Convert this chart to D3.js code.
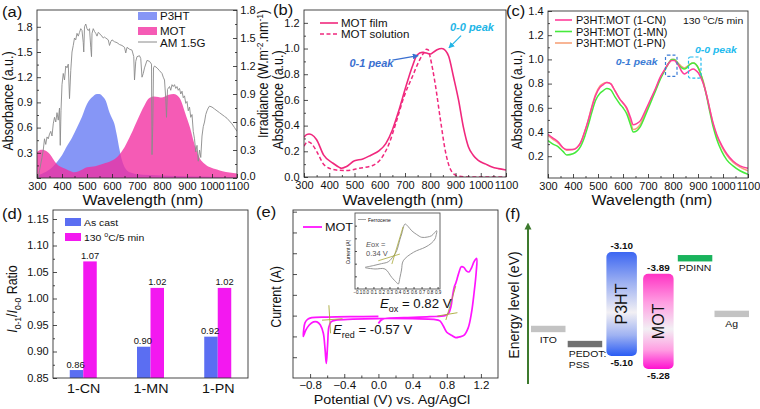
<!DOCTYPE html>
<html><head><meta charset="utf-8">
<script src="https://cdn.jsdelivr.net/npm/d3@7"></script>
<style>html,body{margin:0;padding:0;background:#fff;} svg{display:block;}</style>
</head><body>
<script>
// ================= DATA =================
// (a) absorbance spectra + AM1.5G
const p3htWl  = [300,320,350,380,400,420,440,460,480,500,520,540,550,560,575,590,600,610,620,630,640,650,660,680,700,750,800,900,1000,1100];
const p3htAbs = [0.03,0.05,0.10,0.19,0.27,0.38,0.48,0.60,0.73,0.88,0.96,1.0,1.0,0.98,0.92,0.78,0.71,0.64,0.50,0.34,0.21,0.13,0.09,0.06,0.045,0.035,0.03,0.02,0.015,0.01];
const motWl   = [300,310,320,330,350,378,415,440,448,467,500,533,565,598,624,650,676,703,729,748,768,785,800,815,827,846,860,873,892,912,931,951,970,990,1020,1042,1070,1100];
const motFilm = [0.31,0.33,0.335,0.33,0.29,0.17,0.107,0.075,0.068,0.08,0.127,0.14,0.17,0.205,0.26,0.366,0.52,0.70,0.86,0.95,0.97,0.965,0.957,0.975,0.99,1.0,0.985,0.94,0.78,0.60,0.39,0.236,0.17,0.13,0.10,0.08,0.065,0.055];
const motSolWl = [300,315,330,350,382,428,467,520,572,611,637,664,696,729,755,772,785,792,800,820,840,860,880,905,950,1000,1100];
const motSol   = [0.24,0.275,0.26,0.2,0.09,0.054,0.05,0.068,0.09,0.158,0.26,0.42,0.625,0.78,0.90,0.96,0.995,0.99,0.93,0.72,0.45,0.2,0.06,0.01,0.0,0.0,0.0];
const amWl  = [305,310,315,320,325,330,335,340,345,350,355,360,365,370,375,380,385,390,393,396,400,405,410,415,420,425,430,435,440,445,450,455,460,465,470,475,480,485,487,490,495,500,505,510,515,518,520,525,530,535,540,545,550,555,560,565,570,575,580,585,590,595,600,610,620,630,640,650,655,660,670,680,687,690,695,700,710,715,720,725,730,740,750,758,760,763,766,770,780,790,800,805,810,815,818,822,830,835,840,845,850,855,860,865,870,875,880,885,890,895,900,905,910,915,920,925,930,935,940,945,950,955,960,965,970,975,980,985,990,1000,1010,1020,1030,1040,1050,1060,1070,1080,1090,1100];
const amIrr = [0.0,0.08,0.15,0.22,0.3,0.42,0.36,0.44,0.42,0.47,0.5,0.45,0.58,0.65,0.6,0.7,0.62,0.75,0.35,0.72,1.0,1.12,1.05,1.2,1.18,1.22,0.85,1.15,1.35,1.42,1.5,1.48,1.55,1.52,1.56,1.6,1.58,1.45,1.35,1.62,1.65,1.6,1.58,1.6,1.4,1.3,1.55,1.6,1.57,1.55,1.52,1.56,1.55,1.53,1.52,1.5,1.51,1.5,1.49,1.48,1.42,1.46,1.48,1.46,1.45,1.43,1.42,1.40,1.34,1.4,1.38,1.37,1.30,1.05,1.25,1.30,1.31,1.28,1.08,1.12,1.18,1.26,1.25,1.22,0.25,0.55,1.18,1.2,1.18,1.15,1.12,1.08,1.05,0.85,0.65,0.95,0.98,0.94,1.0,0.98,1.0,0.96,0.98,0.94,0.96,0.9,0.93,0.86,0.88,0.8,0.82,0.72,0.76,0.65,0.68,0.5,0.42,0.28,0.35,0.18,0.3,0.22,0.45,0.55,0.6,0.68,0.72,0.75,0.77,0.76,0.74,0.72,0.7,0.68,0.66,0.64,0.61,0.58,0.54,0.5];
const wlTicks = [300,400,500,600,700,800,900,1000,1100];
const absTicksA = [0.0,0.3,0.6,0.9,1.2,1.5,1.8];
const irrTicks = [0.0,0.3,0.6,0.9,1.2,1.5,1.8];
const absTicksB = [0.0,0.2,0.4,0.6,0.8,1.0,1.2];
const absTicksC = [0.2,0.4,0.6,0.8,1.0,1.2,1.4];

// (c) blend films
const blendWl = [300,320,340,360,375,400,415,430,448,460,475,490,508,520,535,550,568,588,600,615,630,641,655,668,690,708,730,748,765,780,795,805,815,825,835,845,855,868,881,891,901,911,921,935,948,961,975,995,1015,1040,1068,1100];
const cnAbs = [0.38,0.35,0.32,0.27,0.255,0.255,0.27,0.31,0.41,0.49,0.60,0.70,0.77,0.79,0.81,0.80,0.74,0.67,0.64,0.60,0.52,0.46,0.47,0.49,0.58,0.66,0.76,0.85,0.91,0.96,0.99,0.99,0.97,0.94,0.90,0.88,0.89,0.91,0.92,0.91,0.89,0.85,0.80,0.70,0.58,0.47,0.38,0.29,0.22,0.16,0.12,0.10];
const mnAbs = [0.33,0.30,0.28,0.24,0.21,0.22,0.24,0.28,0.37,0.45,0.56,0.66,0.72,0.74,0.76,0.75,0.69,0.63,0.60,0.55,0.46,0.40,0.41,0.44,0.54,0.63,0.74,0.83,0.90,0.96,1.00,1.00,0.98,0.95,0.93,0.92,0.93,0.96,0.97,0.96,0.93,0.88,0.81,0.69,0.56,0.44,0.34,0.24,0.17,0.12,0.08,0.05];
const pnAbs = [0.37,0.34,0.31,0.27,0.25,0.255,0.27,0.31,0.41,0.49,0.61,0.71,0.78,0.80,0.81,0.80,0.74,0.67,0.64,0.59,0.49,0.42,0.43,0.46,0.56,0.65,0.75,0.84,0.91,0.96,1.00,1.00,0.98,0.96,0.94,0.93,0.94,0.96,0.97,0.96,0.93,0.88,0.82,0.70,0.58,0.46,0.37,0.28,0.21,0.15,0.11,0.08];
const blendNames = ["P3HT:MOT (1-CN)","P3HT:MOT (1-MN)","P3HT:MOT (1-PN)"];
const peakBoxWl = [[770,816],[862,912]];
const peakBoxAbs = [[0.86,1.035],[0.845,1.02]];

// (d) ratio bars
const devices = ["1-CN","1-MN","1-PN"];
const ratioAsCast = [0.865,0.909,0.928];
const ratioAnneal = [1.07,1.02,1.02];
const ratioAsCastLabels = ["0.86","0.90","0.92"];
const ratioAnnealLabels = ["1.07","1.02","1.02"];
const ratioTicks = [0.85,0.90,0.95,1.00,1.05,1.10,1.15];

// (e) cyclic voltammetry
const cvV = [0.0,0.03,0.08,0.3,0.6,0.78,0.82,0.85,0.87,0.89,0.905,0.92,0.945,0.97,1.0,1.03,1.06,1.09,1.12,1.15,
             1.145,1.12,1.09,1.05,1.0,0.95,0.905,0.86,0.8,0.76,0.72,0.65,0.4,0.0,-0.3,-0.5,-0.555,-0.58,-0.595,-0.61,-0.625,-0.645,-0.68,-0.72,-0.76,-0.81,-0.85,-0.88,
             -0.875,-0.86,-0.83,-0.78,-0.6,-0.3,0.0];
const cvI = [-1.38,-1.22,-1.14,-1.1,-1.05,-1.0,-0.9,-0.55,0.0,0.4,0.55,0.75,1.11,1.35,1.32,1.15,1.1,1.3,1.6,1.75,
             1.1,0.1,-0.85,-1.6,-1.95,-2.02,-2.06,-1.96,-1.8,-1.5,-1.25,-1.18,-1.15,-1.14,-1.17,-1.22,-1.3,-1.55,-2.4,-3.3,-2.6,-1.85,-1.45,-1.3,-1.3,-1.45,-1.7,-2.0,
             -1.7,-1.35,-1.18,-1.1,-1.07,-1.05,-1.04];
const cvTangents = [[[0.79,-1.21],[0.905,0.42]],[[0.69,-1.02],[0.925,-0.86]],[[-0.58,-0.5],[-0.56,-1.85]],[[-0.66,-1.22],[-0.42,-1.15]]];
const cvTicks = [-0.8,-0.4,0.0,0.4,0.8,1.2];
const fcV = [-0.005,0.1,0.2,0.285,0.35,0.39,0.43,0.452,0.494,0.53,0.577,0.64,0.702,0.77,0.826,0.889,0.88,0.868,0.82,0.743,0.6,0.472,0.45,0.431,0.41,0.39,0.328,0.244,0.119,0.0];
const fcI = [-1.29,-1.15,-1.0,-0.85,-0.4,0.02,0.9,1.34,2.13,1.95,1.6,1.3,1.08,1.1,1.21,1.6,1.2,0.95,0.6,0.29,-0.1,-0.77,-1.5,-2.08,-2.61,-2.5,-2.08,-1.42,-1.42,-1.33];
const fcTangents = [[[0.33,-1.03],[0.47,1.92]],[[0.16,-0.77],[0.43,-0.24]]];
const fcTicks = [-0.1,0.0,0.1,0.2,0.3,0.4,0.5,0.6,0.7,0.8,0.9];

// (f) energy levels
const materials = ["ITO","PEDOT:PSS","P3HT","MOT","PDINN","Ag"];
const electrodeNames = ["ITO","PEDOT:PSS","PDINN","Ag"];
const electrodeLevels = [-4.58,-4.87,-3.22,-4.29];
const organicNames = ["P3HT","MOT"];
const lumoLevels = [-3.10,-3.52];
const homoLevels = [-5.10,-5.35];
const lumoLabels = ["-3.10","-3.89"];
const homoLabels = ["-5.10","-5.28"];

// ================= DRAWING =================
const FONT = "'Liberation Sans', Arial, Helvetica, sans-serif";
const SX = 1.1;
const svg = d3.select("body").append("svg").attr("width",760).attr("height",409);
const defs = svg.append("defs");

function txt(g, x, y, parts, o = {}) {
  const size = o.size || 11;
  let tr = `translate(${x},${y}) scale(${o.sx ?? SX},1)`;
  if (o.rot) tr += ` rotate(${o.rot})`;
  const t = g.append("text").attr("transform", tr).attr("font-family", FONT)
    .attr("font-size", size).attr("text-anchor", o.anchor || "start").attr("fill", o.fill || "#111");
  if (o.weight) t.attr("font-weight", o.weight);
  if (o.italic) t.attr("font-style", "italic");
  if (typeof parts === "string") parts = [{t: parts}];
  let shift = 0;
  parts.forEach(p => {
    const ts = t.append("tspan").text(p.t);
    let target = 0;
    if (p.sup) target = -size * 0.38;
    if (p.sub) target = size * 0.3;
    if (p.sup || p.sub) ts.attr("font-size", size * 0.68);
    if (target !== shift) { ts.attr("dy", target - shift); shift = target; }
    if (p.italic) ts.attr("font-style", "italic");
  });
  return t;
}
function addAxis(g, axis, tx, ty, fs) {
  const a = g.append("g").attr("transform", `translate(${tx},${ty})`).call(axis);
  a.select(".domain").remove();
  a.selectAll(".tick line").attr("stroke", "#222").attr("stroke-width", 0.8);
  a.selectAll(".tick text").attr("font-family", FONT).attr("font-size", fs || 10).attr("fill", "#111")
    .attr("transform", `scale(${SX},1)`);
  return a;
}
function frame(g, b, stroke) {
  g.append("rect").attr("x", b.x0).attr("y", b.y0).attr("width", b.x1 - b.x0).attr("height", b.y1 - b.y0)
    .attr("fill", "none").attr("stroke", stroke || "#333").attr("stroke-width", 0.9);
}
function clip(id, b) {
  defs.append("clipPath").attr("id", id).append("rect").attr("x", b.x0).attr("y", b.y0)
    .attr("width", b.x1 - b.x0).attr("height", b.y1 - b.y0);
  return `url(#${id})`;
}
const zip = (a, b) => a.map((v, i) => [v, b[i]]);
const minorOf = (ticks) => ticks.slice(1).map((t, i) => (t + ticks[i]) / 2);
const fmtWl = d3.format("d");
const TF = 10;

// ---------- (a) ----------
{
  const g = svg.append("g");
  const B = {x0: 37, x1: 237, y0: 10, y1: 178};
  const x = d3.scaleLinear().domain([300, 1100]).range([B.x0, B.x1]);
  const y = d3.scaleLinear().domain([0, 2.0]).range([B.y1, B.y0]);
  const y2 = d3.scaleLinear().domain([0, 1.8]).range([B.y1, B.y0]);
  const cp = clip("ca", B);
  const dg = g.append("g").attr("clip-path", cp);
  const area = d3.area().x(d => x(d[0])).y0(y(0)).y1(d => y(d[1])).curve(d3.curveMonotoneX);
  dg.append("path").datum(zip(p3htWl, p3htAbs)).attr("d", area).attr("fill", "rgb(60,85,240)").attr("fill-opacity", 0.62);
  dg.append("path").datum(zip(motWl, motFilm)).attr("d", area).attr("fill", "rgb(242,45,160)").attr("fill-opacity", 0.78);
  dg.append("path").datum(zip(amWl, amIrr)).attr("d", d3.line().x(d => x(d[0])).y(d => y2(d[1])))
    .attr("fill", "none").attr("stroke", "#8a8a8a").attr("stroke-width", 0.9);
  frame(g, B);
  addAxis(g, d3.axisBottom(x).tickValues(wlTicks).tickFormat(fmtWl).tickSizeInner(-4).tickSizeOuter(0).tickPadding(5), 0, B.y1, TF);
  addAxis(g, d3.axisBottom(x).tickValues(minorOf(wlTicks)).tickSizeInner(-2).tickSizeOuter(0).tickFormat(""), 0, B.y1);
  addAxis(g, d3.axisLeft(y).tickValues(absTicksA).tickFormat(d3.format(".1f")).tickSizeInner(-4).tickSizeOuter(0).tickPadding(4), B.x0, 0, TF)
    .selectAll(".tick").filter(d => d === 0).select("text").remove();
  addAxis(g, d3.axisLeft(y).tickValues(minorOf(absTicksA)).tickSizeInner(-2).tickSizeOuter(0).tickFormat(""), B.x0, 0);
  addAxis(g, d3.axisRight(y2).tickValues(irrTicks).tickFormat(d3.format(".1f")).tickSizeInner(-4).tickSizeOuter(0).tickPadding(3), B.x1, 0, TF)
    .selectAll(".tick").filter(d => d === 0).select("text").attr("dy", "0.1em");
  addAxis(g, d3.axisRight(y2).tickValues(minorOf(irrTicks)).tickSizeInner(-2).tickSizeOuter(0).tickFormat(""), B.x1, 0);
  txt(g, 143, 205, "Wavelength (nm)", {size: 14.5, anchor: "middle"});
  txt(g, 13, 101, "Absorbance (a.u.)", {size: 12.5, anchor: "middle", rot: -90});
  txt(g, 268, 74, [{t: "Irradiance (W.m"}, {t: "-2", sup: 1}, {t: ".nm"}, {t: "-1", sup: 1}, {t: ")"}], {size: 12.5, anchor: "middle", rot: -90});
  // legend
  g.append("rect").attr("x", 138).attr("y", 12).attr("width", 19).attr("height", 8).attr("fill", "rgb(60,85,240)").attr("fill-opacity", 0.62);
  g.append("rect").attr("x", 138).attr("y", 27).attr("width", 19).attr("height", 8).attr("fill", "rgb(242,45,160)").attr("fill-opacity", 0.78);
  g.append("line").attr("x1", 138).attr("x2", 157).attr("y1", 42).attr("y2", 42).attr("stroke", "#8a8a8a").attr("stroke-width", 1);
  txt(g, 160, 20, "P3HT", {size: 10.5});
  txt(g, 160, 35, "MOT", {size: 10.5});
  txt(g, 160, 47, "AM 1.5G", {size: 10.5});
  txt(g, 2, 17, "(a)", {size: 15});
}

// ---------- (b) ----------
{
  const g = svg.append("g");
  const B = {x0: 304, x1: 506, y0: 10, y1: 177};
  const x = d3.scaleLinear().domain([300, 1100]).range([B.x0, B.x1]);
  const y = d3.scaleLinear().domain([0, 1.3]).range([B.y1, B.y0]);
  const dg = g.append("g").attr("clip-path", clip("cb", B));
  const line = d3.line().x(d => x(d[0])).y(d => y(d[1])).curve(d3.curveMonotoneX);
  const col = "#f0287d";
  dg.append("path").datum(zip(motSolWl, motSol)).attr("d", line).attr("fill", "none").attr("stroke", col).attr("stroke-width", 1.5).attr("stroke-dasharray", "4,2.5");
  dg.append("path").datum(zip(motWl, motFilm)).attr("d", line).attr("fill", "none").attr("stroke", col).attr("stroke-width", 1.6);
  frame(g, B);
  addAxis(g, d3.axisBottom(x).tickValues(wlTicks).tickFormat(fmtWl).tickSizeInner(-4).tickSizeOuter(0).tickPadding(5), 0, B.y1, TF);
  addAxis(g, d3.axisBottom(x).tickValues(minorOf(wlTicks)).tickSizeInner(-2).tickSizeOuter(0).tickFormat(""), 0, B.y1);
  addAxis(g, d3.axisLeft(y).tickValues(absTicksB).tickFormat(d3.format(".1f")).tickSizeInner(-4).tickSizeOuter(0).tickPadding(4), B.x0, 0, TF);
  addAxis(g, d3.axisLeft(y).tickValues(minorOf(absTicksB)).tickSizeInner(-2).tickSizeOuter(0).tickFormat(""), B.x0, 0);
  txt(g, 403, 205, "Wavelength (nm)", {size: 14.5, anchor: "middle"});
  txt(g, 283, 100, "Absorbance (a.u.)", {size: 12.5, anchor: "middle", rot: -90});
  g.append("line").attr("x1", 320).attr("x2", 338).attr("y1", 23).attr("y2", 23).attr("stroke", col).attr("stroke-width", 1.6);
  g.append("line").attr("x1", 320).attr("x2", 338).attr("y1", 34).attr("y2", 34).attr("stroke", col).attr("stroke-width", 1.5).attr("stroke-dasharray", "4,2.5");
  txt(g, 341, 27, "MOT film", {size: 10.5});
  txt(g, 341, 38, "MOT solution", {size: 10.5});
  // annotations
  const blue = "#3a6fd0", cyan = "#22b5e6";
  defs.append("marker").attr("id", "arB").attr("viewBox", "0 0 10 10").attr("refX", 9).attr("refY", 5)
    .attr("markerWidth", 5).attr("markerHeight", 5).attr("orient", "auto").append("path").attr("d", "M0,0L10,5L0,10z").attr("fill", blue);
  defs.append("marker").attr("id", "arC").attr("viewBox", "0 0 10 10").attr("refX", 9).attr("refY", 5)
    .attr("markerWidth", 5).attr("markerHeight", 5).attr("orient", "auto").append("path").attr("d", "M0,0L10,5L0,10z").attr("fill", cyan);
  g.append("line").attr("x1", x(650)).attr("y1", y(0.91)).attr("x2", x(752)).attr("y2", y(0.945))
    .attr("stroke", blue).attr("stroke-width", 1.2).attr("marker-end", "url(#arB)");
  g.append("line").attr("x1", x(922)).attr("y1", y(1.10)).attr("x2", x(874)).attr("y2", y(1.005))
    .attr("stroke", cyan).attr("stroke-width", 1.2).attr("marker-end", "url(#arC)");
  txt(g, x(480), y(0.86), "0-1 peak", {size: 10, weight: "bold", italic: 1, fill: blue});
  txt(g, x(878), y(1.135), "0-0 peak", {size: 10, weight: "bold", italic: 1, fill: cyan});
  txt(g, 273, 15, "(b)", {size: 15});
}

// ---------- (c) ----------
{
  const g = svg.append("g");
  const B = {x0: 548, x1: 748, y0: 11, y1: 178};
  const x = d3.scaleLinear().domain([300, 1100]).range([B.x0, B.x1]);
  const y = d3.scaleLinear().domain([0.02, 1.4]).range([B.y1, B.y0]);
  const dg = g.append("g").attr("clip-path", clip("cc", B));
  const line = d3.line().x(d => x(d[0])).y(d => y(d[1])).curve(d3.curveMonotoneX);
  const cols = ["#ff3d9a", "#46ea3c", "#f7a27a"];
  const series = [cnAbs, mnAbs, pnAbs];
  [2, 1, 0].forEach(i => dg.append("path").datum(zip(blendWl, series[i])).attr("d", line)
    .attr("fill", "none").attr("stroke", cols[i]).attr("stroke-width", 1.5));
  frame(g, B);
  addAxis(g, d3.axisBottom(x).tickValues(wlTicks).tickFormat(fmtWl).tickSizeInner(-4).tickSizeOuter(0).tickPadding(5), 0, B.y1, TF);
  addAxis(g, d3.axisBottom(x).tickValues(minorOf(wlTicks)).tickSizeInner(-2).tickSizeOuter(0).tickFormat(""), 0, B.y1);
  addAxis(g, d3.axisLeft(y).tickValues(absTicksC).tickFormat(d3.format(".1f")).tickSizeInner(-4).tickSizeOuter(0).tickPadding(4), B.x0, 0, TF);
  addAxis(g, d3.axisLeft(y).tickValues(minorOf(absTicksC)).tickSizeInner(-2).tickSizeOuter(0).tickFormat(""), B.x0, 0);
  txt(g, 652, 205, "Wavelength (nm)", {size: 14.5, anchor: "middle"});
  txt(g, 522, 100, "Absorbance (a.u.)", {size: 12.5, anchor: "middle", rot: -90});
  blendNames.forEach((n, i) => {
    g.append("line").attr("x1", 555).attr("x2", 572).attr("y1", 20 + i * 11.5).attr("y2", 20 + i * 11.5).attr("stroke", cols[i]).attr("stroke-width", 1.6);
    txt(g, 576, 24 + i * 11.5, n, {size: 10});
  });
  txt(g, 683, 24, [{t: "130 "}, {t: "o", sup: 1}, {t: "C/5 min"}], {size: 9.5});
  const bc = ["#3a7bd5", "#22bbee"];
  peakBoxWl.forEach((w, i) => {
    g.append("rect").attr("x", x(w[0])).attr("y", y(peakBoxAbs[i][1])).attr("width", x(w[1]) - x(w[0]))
      .attr("height", y(peakBoxAbs[i][0]) - y(peakBoxAbs[i][1])).attr("rx", 2)
      .attr("fill", "none").attr("stroke", bc[i]).attr("stroke-width", 1.2).attr("stroke-dasharray", "3,2");
  });
  txt(g, x(738), y(0.955), "0-1 peak", {size: 9.5, weight: "bold", italic: 1, fill: bc[0], anchor: "end"});
  txt(g, x(888), y(1.05), "0-0 peak", {size: 9.5, weight: "bold", italic: 1, fill: bc[1]});
  txt(g, 506, 16, "(c)", {size: 15});
}

// ---------- (d) ----------
{
  const g = svg.append("g");
  const B = {x0: 53, x1: 248, y0: 210, y1: 378};
  const x = d3.scalePoint().domain(devices).range([B.x0, B.x1]).padding(0.45);
  const y = d3.scaleLinear().domain([0.85, 1.167]).range([B.y1, B.y0]);
  const bw = 13.5;
  const cBlue = "#5b6ef2", cMag = "#f318f0";
  devices.forEach((d, i) => {
    g.append("rect").attr("x", x(d) - bw).attr("y", y(ratioAsCast[i])).attr("width", bw).attr("height", y(0.85) - y(ratioAsCast[i])).attr("fill", cBlue);
    g.append("rect").attr("x", x(d)).attr("y", y(ratioAnneal[i])).attr("width", bw).attr("height", y(0.85) - y(ratioAnneal[i])).attr("fill", cMag);
    txt(g, x(d) - bw / 2 - 1, y(ratioAsCast[i]) - 2.5, ratioAsCastLabels[i], {size: 8.5, anchor: "middle"});
    txt(g, x(d) + bw / 2, y(ratioAnneal[i]) - 2.5, ratioAnnealLabels[i], {size: 8.5, anchor: "middle"});
  });
  frame(g, B);
  addAxis(g, d3.axisBottom(x).tickSize(0).tickPadding(6), 0, B.y1, 13);
  addAxis(g, d3.axisLeft(y).tickValues(ratioTicks).tickFormat(d3.format(".2f")).tickSizeInner(-4).tickSizeOuter(0).tickPadding(4), B.x0, 0, TF);
  addAxis(g, d3.axisLeft(y).tickValues(minorOf(ratioTicks)).tickSizeInner(-2).tickSizeOuter(0).tickFormat(""), B.x0, 0);
  txt(g, 17, 299, [{t: "I", italic: 1}, {t: "0-1", sub: 1}, {t: "/"}, {t: "I", italic: 1}, {t: "0-0", sub: 1}, {t: " Ratio"}], {size: 12.5, anchor: "middle", rot: -90});
  g.append("rect").attr("x", 65).attr("y", 218).attr("width", 16).attr("height", 8).attr("fill", cBlue);
  g.append("rect").attr("x", 65).attr("y", 233).attr("width", 16).attr("height", 8).attr("fill", cMag);
  txt(g, 84, 226, "As cast", {size: 9.5});
  txt(g, 84, 241, [{t: "130 "}, {t: "o", sup: 1}, {t: "C/5 min"}], {size: 9.5});
  txt(g, 2, 219, "(d)", {size: 15});
}

// ---------- (e) ----------
{
  const g = svg.append("g");
  const B = {x0: 293, x1: 498, y0: 210, y1: 378};
  const x = d3.scaleLinear().domain([-1.0, 1.4]).range([B.x0, B.x1]);
  const y = d3.scaleLinear().domain([-4, 4.08]).range([B.y1, B.y0]);
  const dg = g.append("g").attr("clip-path", clip("ce", B));
  const mag = "#ff14ff", olive = "#a8a838";
  dg.append("path").datum(zip(cvV, cvI)).attr("d", d3.line().x(d => x(d[0])).y(d => y(d[1])).curve(d3.curveCatmullRom.alpha(0.5)))
    .attr("fill", "none").attr("stroke", mag).attr("stroke-width", 1.7);
  cvTangents.forEach(s => dg.append("line").attr("x1", x(s[0][0])).attr("y1", y(s[0][1])).attr("x2", x(s[1][0])).attr("y2", y(s[1][1]))
    .attr("stroke", olive).attr("stroke-width", 0.9));
  frame(g, B);
  addAxis(g, d3.axisBottom(x).tickValues(cvTicks).tickFormat(d3.format(".1f")).tickSizeInner(-4).tickSizeOuter(0).tickPadding(4), 0, B.y1, 10.5);
  addAxis(g, d3.axisBottom(x).tickValues(minorOf(cvTicks)).tickSizeInner(-2.5).tickSizeOuter(0).tickFormat(""), 0, B.y1);
  addAxis(g, d3.axisLeft(y).tickValues(d3.range(-3, 5)).tickSizeInner(-4).tickSizeOuter(0).tickFormat(""), B.x0, 0);
  txt(g, 392, 404, "Potential (V) vs. Ag/AgCl", {size: 13, anchor: "middle"});
  txt(g, 281, 297, "Current (A)", {size: 12.5, anchor: "middle", rot: -90});
  g.append("line").attr("x1", 303).attr("x2", 322).attr("y1", 227).attr("y2", 227).attr("stroke", mag).attr("stroke-width", 1.8);
  txt(g, 325, 231, "MOT", {size: 11.5});
  txt(g, 380, 308, [{t: "E", italic: 1}, {t: "ox", sub: 1}, {t: " = 0.82 V"}], {size: 12});
  txt(g, 333, 334, [{t: "E", italic: 1}, {t: "red", sub: 1}, {t: " = -0.57 V"}], {size: 12});
  txt(g, 256, 217, "(e)", {size: 15});

  // inset
  const I = {x0: 355, x1: 440, y0: 213, y1: 289};
  const xi = d3.scaleLinear().domain([-0.13, 0.93]).range([I.x0, I.x1]);
  const yi = d3.scaleLinear().domain([-3, 3]).range([I.y1, I.y0]);
  g.append("rect").attr("x", I.x0).attr("y", I.y0).attr("width", I.x1 - I.x0).attr("height", I.y1 - I.y0).attr("fill", "#fff");
  const ig = g.append("g").attr("clip-path", clip("ci", I));
  ig.append("path").datum(zip(fcV, fcI)).attr("d", d3.line().x(d => xi(d[0])).y(d => yi(d[1])).curve(d3.curveCatmullRom.alpha(0.5)))
    .attr("fill", "none").attr("stroke", "#8a8a8a").attr("stroke-width", 0.9);
  fcTangents.forEach(s => ig.append("line").attr("x1", xi(s[0][0])).attr("y1", yi(s[0][1])).attr("x2", xi(s[1][0])).attr("y2", yi(s[1][1]))
    .attr("stroke", olive).attr("stroke-width", 0.8));
  frame(g, I, "#555");
  const ax = addAxis(g, d3.axisBottom(xi).tickValues(fcTicks).tickFormat(d3.format(".1f")).tickSizeInner(-2).tickSizeOuter(0).tickPadding(1.5), 0, I.y1, 4.5);
  ax.selectAll(".tick text").attr("transform", null);
  addAxis(g, d3.axisLeft(yi).tickValues(d3.range(-2, 3)).tickSizeInner(-2).tickSizeOuter(0).tickFormat(""), I.x0, 0);
  txt(g, 350, 252, "Current (A)", {size: 5, anchor: "middle", rot: -90, sx: 1});
  g.append("line").attr("x1", 358).attr("x2", 366).attr("y1", 219.5).attr("y2", 219.5).attr("stroke", "#8a8a8a").attr("stroke-width", 0.8);
  txt(g, 368, 221.5, "Ferrocene", {size: 5, sx: 1});
  txt(g, 366, 247, [{t: "E", italic: 1}, {t: "ox ="}], {size: 7.5, fill: "#555", sx: 1});
  txt(g, 366, 256, "0.34 V", {size: 7.5, fill: "#555", sx: 1});
}

// ---------- (f) ----------
{
  const g = svg.append("g");
  const e = d3.scaleLinear().domain([-3.1, -5.1]).range([252, 356]);
  const xb = d3.scaleBand().domain(materials).range([531, 749]).paddingInner(0.06);
  const gradDef = (id, c0, c1, c2) => {
    const lg = defs.append("linearGradient").attr("id", id).attr("x1", 0).attr("x2", 0).attr("y1", 0).attr("y2", 1);
    [[0, c0], [0.3, c1], [0.58, "#f2f0f4"], [0.8, c1], [1, c2]].forEach(s => lg.append("stop").attr("offset", s[0]).attr("stop-color", s[1]));
  };
  gradDef("gP3HT", "#3c66f2", "#9fb2f2", "#2a5cf4");
  gradDef("gMOT", "#ff33c4", "#ff9ee2", "#ff10d0");
  const elecCol = {"ITO": "#c3c3c3", "PEDOT:PSS": "#707070", "PDINN": "#19b35c", "Ag": "#c3c3c3"};
  electrodeNames.forEach((n, i) => {
    g.append("rect").attr("x", xb(n)).attr("y", e(electrodeLevels[i]) - 3.2).attr("width", xb.bandwidth()).attr("height", 6.4).attr("fill", elecCol[n]);
  });
  const cx = n => xb(n) + xb.bandwidth() / 2;
  txt(g, cx("ITO"), e(electrodeLevels[0]) + 14, "ITO", {size: 9.5, anchor: "middle"});
  txt(g, xb("PEDOT:PSS") + 1, e(electrodeLevels[1]) + 13, "PEDOT:", {size: 9.5});
  txt(g, xb("PEDOT:PSS") + 1, e(electrodeLevels[1]) + 24, "PSS", {size: 9.5});
  txt(g, xb("PDINN") + 1, e(electrodeLevels[2]) + 13, "PDINN", {size: 9.5});
  txt(g, cx("Ag"), e(electrodeLevels[3]) + 13, "Ag", {size: 9.5, anchor: "middle"});
  organicNames.forEach((n, i) => {
    const x0 = xb(n) + 2, w = xb.bandwidth() - 4;
    g.append("rect").attr("x", x0).attr("y", e(lumoLevels[i])).attr("width", w).attr("height", e(homoLevels[i]) - e(lumoLevels[i]))
      .attr("rx", 5).attr("fill", `url(#g${n})`);
    txt(g, cx(n), e(lumoLevels[i]) - 3, lumoLabels[i], {size: 9, weight: "bold", anchor: "middle"});
    txt(g, cx(n), e(homoLevels[i]) + 10, homoLabels[i], {size: 9, weight: "bold", anchor: "middle"});
    txt(g, cx(n) + 5.5, (e(lumoLevels[i]) + e(homoLevels[i])) / 2, n, {size: 16, anchor: "middle", rot: -90, sx: 1.05});
  });
  defs.append("marker").attr("id", "arG").attr("viewBox", "0 0 10 10").attr("refX", 5).attr("refY", 5)
    .attr("markerWidth", 3.5).attr("markerHeight", 4).attr("orient", "auto").append("path").attr("d", "M0,0L10,5L0,10z").attr("fill", "#3d7a2e");
  g.append("line").attr("x1", 528).attr("x2", 528).attr("y1", 384).attr("y2", 226).attr("stroke", "#3d7a2e").attr("stroke-width", 2).attr("marker-end", "url(#arG)");
  txt(g, 519, 305, "Energy level (eV)", {size: 14, anchor: "middle", rot: -90});
  txt(g, 505, 219, "(f)", {size: 15});
}
</script>
</body></html>
